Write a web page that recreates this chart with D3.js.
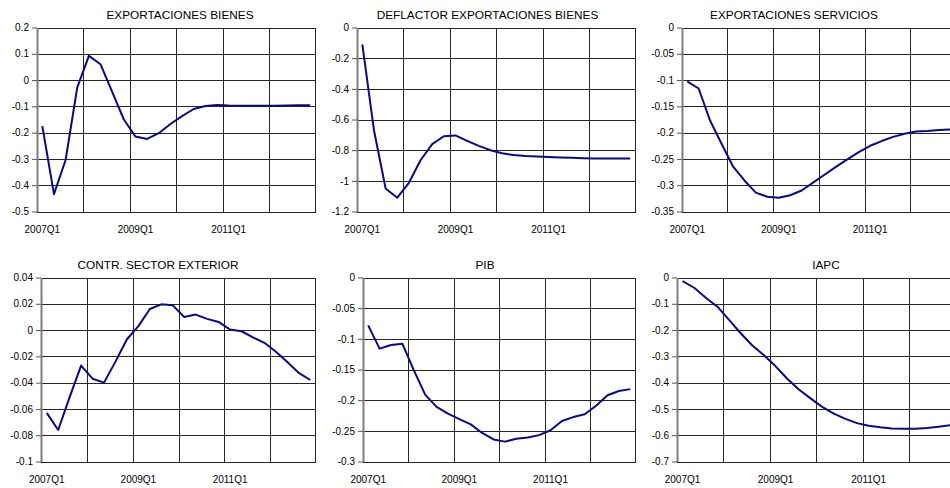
<!DOCTYPE html>
<html>
<head>
<meta charset="utf-8">
<script src="https://cdn.jsdelivr.net/npm/d3@7/dist/d3.min.js"></script>
<style>
  html, body { margin: 0; padding: 0; background: #fff; overflow: hidden; }
  svg { display: block; font-family: "Liberation Sans", Arial, sans-serif; }
</style>
</head>
<body>
<script>
// Quarterly categories shared by all six panels
const quarters = [
  "2007Q1","2007Q2","2007Q3","2007Q4",
  "2008Q1","2008Q2","2008Q3","2008Q4",
  "2009Q1","2009Q2","2009Q3","2009Q4",
  "2010Q1","2010Q2","2010Q3","2010Q4",
  "2011Q1","2011Q2","2011Q3","2011Q4",
  "2012Q1","2012Q2","2012Q3","2012Q4"
];
const labeledQuarters = ["2007Q1", "2009Q1", "2011Q1"];

// Series (deviation from baseline, percentage points)
const exportacionesBienes = [-0.175,-0.434,-0.304,-0.028,0.092,0.06,-0.045,-0.15,-0.215,-0.224,-0.202,-0.167,
  -0.137,-0.11,-0.099,-0.095,-0.097,-0.098,-0.098,-0.098,-0.098,-0.097,-0.096,-0.096];
const deflactorExportacionesBienes = [-0.11,-0.67,-1.05,-1.11,-1.013,-0.866,-0.761,-0.709,-0.704,-0.739,-0.772,-0.8,
  -0.82,-0.832,-0.838,-0.842,-0.845,-0.848,-0.85,-0.852,-0.854,-0.855,-0.855,-0.855];
const exportacionesServicios = [-0.1025,-0.116,-0.177,-0.221,-0.264,-0.291,-0.314,-0.322,-0.324,-0.319,-0.31,-0.295,
  -0.28,-0.265,-0.251,-0.237,-0.225,-0.216,-0.208,-0.202,-0.198,-0.197,-0.195,-0.194];
const contrSectorExterior = [-0.063,-0.076,-0.051,-0.027,-0.037,-0.04,-0.024,-0.007,0.003,0.016,0.0196,0.0188,
  0.01,0.0118,0.0085,0.0062,0.0004,-0.0009,-0.0056,-0.0097,-0.0165,-0.0243,-0.0326,-0.038];
const pib = [-0.078,-0.116,-0.11,-0.108,-0.151,-0.191,-0.211,-0.222,-0.231,-0.2395,-0.2535,-0.264,
  -0.2676,-0.263,-0.261,-0.257,-0.249,-0.234,-0.2276,-0.223,-0.209,-0.192,-0.185,-0.182];
const iapc = [-0.014,-0.039,-0.077,-0.111,-0.161,-0.212,-0.2585,-0.296,-0.338,-0.385,-0.426,-0.46,
  -0.492,-0.518,-0.538,-0.554,-0.564,-0.57,-0.574,-0.575,-0.575,-0.5725,-0.5675,-0.562];

// Value-axis ticks for each panel
const ticksExportacionesBienes = [0.2, 0.1, 0, -0.1, -0.2, -0.3, -0.4, -0.5];
const ticksDeflactor = [0, -0.2, -0.4, -0.6, -0.8, -1, -1.2];
const ticksServicios = [0, -0.05, -0.1, -0.15, -0.2, -0.25, -0.3, -0.35];
const ticksContr = [0.04, 0.02, 0, -0.02, -0.04, -0.06, -0.08, -0.1];
const ticksPib = [0, -0.05, -0.1, -0.15, -0.2, -0.25, -0.3];
const ticksIapc = [0, -0.1, -0.2, -0.3, -0.4, -0.5, -0.6, -0.7];

const titles = [
  "EXPORTACIONES BIENES", "DEFLACTOR EXPORTACIONES BIENES", "EXPORTACIONES SERVICIOS",
  "CONTR. SECTOR EXTERIOR", "PIB", "IAPC"
];

const panels = [
  { title: titles[0], values: exportacionesBienes, ticks: ticksExportacionesBienes },
  { title: titles[1], values: deflactorExportacionesBienes, ticks: ticksDeflactor },
  { title: titles[2], values: exportacionesServicios, ticks: ticksServicios },
  { title: titles[3], values: contrSectorExterior, ticks: ticksContr },
  { title: titles[4], values: pib, ticks: ticksPib },
  { title: titles[5], values: iapc, ticks: ticksIapc }
];

// Panel geometry: 3 columns x 2 rows
const W = 950, H = 488;
const colW = 320, rowH = 250;
const plotTop = 27.5, plotBottom = 211.5, plotRight = 316;
const plotLeft = [36.5, 36.5, 41.5, 41, 42.5, 36.7];
const titleCenter = [180, 167.5, 154, 158, 165, 186];

const lineColor = "#0a0a82";
const gridColor = "#262626";

const fmt = d => String(+d.toFixed(2)).replace("\u2212", "-");

const svg = d3.select("body").append("svg")
  .attr("width", W).attr("height", H)
  .attr("viewBox", `0 0 ${W} ${H}`);

panels.forEach((p, k) => {
  const col = k % 3, row = Math.floor(k / 3);
  const ox = col * colW, oy = row * rowH;
  const x0 = ox + plotLeft[k], x1 = ox + plotRight;
  const y0 = oy + plotTop, y1 = oy + plotBottom;

  const x = d3.scaleBand().domain(quarters).range([x0, x1]).padding(0);
  const y = d3.scaleLinear().domain(d3.extent(p.ticks)).range([y1, y0]);
  const cx = q => x(q) + x.bandwidth() / 2;

  const g = svg.append("g");
  const snap = v => Math.round(v) + 0.5;

  // horizontal gridlines at every value tick
  g.append("g").selectAll("line").data(p.ticks).join("line")
    .attr("x1", x0).attr("x2", x1)
    .attr("y1", d => snap(y(d))).attr("y2", d => snap(y(d)))
    .attr("stroke", gridColor).attr("stroke-width", 1)
    .attr("shape-rendering", "crispEdges");

  // vertical gridlines at each year boundary plus the right border
  const yearStarts = quarters.filter((q, i) => i > 0 && i % 4 === 0);
  g.append("g").selectAll("line").data(yearStarts).join("line")
    .attr("x1", d => snap(x(d))).attr("x2", d => snap(x(d)))
    .attr("y1", y0).attr("y2", y1)
    .attr("stroke", gridColor).attr("stroke-width", 1)
    .attr("shape-rendering", "crispEdges");
  g.append("line")
    .attr("x1", snap(x1) - 1).attr("x2", snap(x1) - 1)
    .attr("y1", y0).attr("y2", y1)
    .attr("stroke", gridColor).attr("shape-rendering", "crispEdges");

  // value axis
  const axis = d3.axisLeft(y).tickValues(p.ticks).tickFormat(fmt)
    .tickSize(5).tickSizeOuter(0).tickPadding(3);
  const ag = g.append("g").attr("transform", `translate(${Math.round(x0)},0)`).call(axis);
  ag.select(".domain").attr("stroke", "#7d7d7d").attr("stroke-width", 2);
  ag.selectAll(".tick line").attr("stroke", "#555");
  ag.selectAll(".tick text")
    .attr("fill", "#000").attr("font-size", "10px")
    .attr("font-family", "'Liberation Sans', Arial, sans-serif");

  // category labels
  g.append("g").selectAll("text").data(labeledQuarters).join("text")
    .attr("x", d => cx(d)).attr("y", y1 + 21)
    .attr("text-anchor", "middle")
    .attr("font-size", "10px").attr("fill", "#000")
    .text(d => d);

  // series line
  const line = d3.line()
    .x((v, i) => cx(quarters[i]))
    .y(v => y(v))
    .curve(d3.curveLinear);
  g.append("path")
    .datum(p.values)
    .attr("d", line)
    .attr("fill", "none")
    .attr("stroke", lineColor)
    .attr("stroke-width", 2)
    .attr("stroke-linejoin", "round");

  // panel title
  g.append("text")
    .attr("x", ox + titleCenter[k]).attr("y", oy + 18.5)
    .attr("text-anchor", "middle")
    .attr("font-size", "11.8px").attr("fill", "#000")
    .text(p.title);
});
</script>
</body>
</html>
